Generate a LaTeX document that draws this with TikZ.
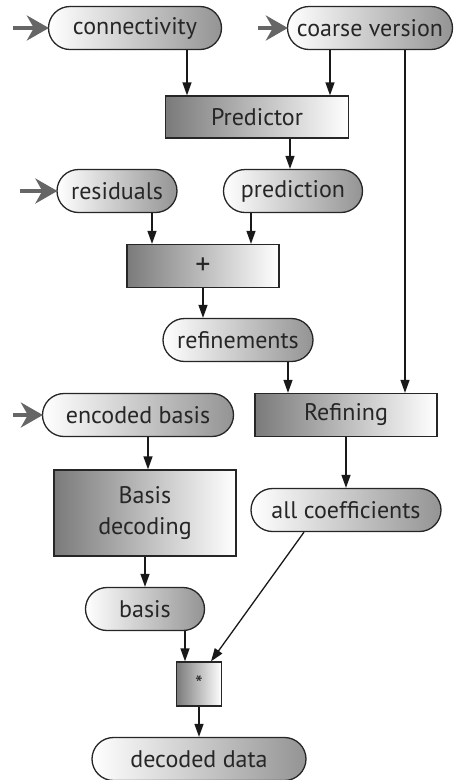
\documentclass[tikz,border=0pt]{standalone}
\usepackage{fontspec}
\setmainfont{PT Sans}
\usetikzlibrary{shapes.misc,arrows.meta,calc}
\tikzset{
  datum/.style={rounded rectangle,draw=black!85,line width=1.3pt,left color=white,right color=black!42,
    inner sep=0pt,minimum height=43pt,font=\fontsize{24}{27}\selectfont,text=black!85},
  stage/.style={rectangle,draw=black!85,line width=1.3pt,left color=black!52,right color=white,
    inner sep=0pt,minimum height=43pt,font=\fontsize{24}{27}\selectfont,text=black!85,align=center},
  flow/.style={line width=1.3pt,draw=black!90,-{Triangle[length=13pt,width=9pt]}},
  feed/.style={line width=3.5pt,draw=black!60,-{Stealth[length=22pt,width=25pt,inset=7pt]},shorten >=-1pt}
}
\begin{document}
\begin{tikzpicture}[x=1pt,y=-1pt]
\useasboundingbox (0,0) rectangle (456,780);
% data items
\node[datum,minimum width=173pt] (conn) at (135,28) {connectivity};
\node[datum,minimum width=165pt] (coarse) at (370,28) {coarse version};
\node[datum,minimum width=120pt] (resid) at (117,191) {residuals};
\node[datum,minimum width=139pt] (pred) at (293,191) {prediction};
\node[datum,minimum width=150pt] (refin) at (238,340) {refinements};
\node[datum,minimum width=191pt] (encb) at (138,415) {encoded basis};
\node[datum,minimum width=190pt] (allc) at (346,510) {all coefficients};
\node[datum,minimum width=119pt] (basis) at (145,609) {basis};
\node[datum,minimum width=214pt] (dec) at (199,759) {decoded data};
% processing steps
\node[stage,minimum width=183pt,minimum height=42pt] (predictor) at (257,117) {Predictor};
\node[stage,minimum width=152pt,font=\fontsize{30}{30}\selectfont] (plus) at (203,266) {+};
\node[stage,minimum width=182pt] (refining) at (346,415) {Refining};
\node[stage,minimum width=182pt,minimum height=86pt,font=\fontsize{24}{31}\selectfont] (bdec) at (145,513) {Basis\\decoding};
\node[stage,minimum width=45pt,minimum height=44pt,font=\fontsize{22}{22}\selectfont] (mult) at (199,684) {*};
% inputs
\coordinate (inConn) at (13,28);
\coordinate (inCoarse) at (258,28);
\coordinate (inResid) at (20,191);
\coordinate (inEncb) at (13,415);
\draw[feed] (inConn) -- (conn.west);
\draw[feed] (inCoarse) -- (coarse.west);
\draw[feed] (inResid) -- (resid.west);
\draw[feed] (inEncb) -- (encb.west);
% connections
\draw[flow] ([xshift=52pt]conn.south) -- ([xshift=52pt]conn.south |- predictor.north);
\draw[flow] ([xshift=-40pt]coarse.south) -- ([xshift=-40pt]coarse.south |- predictor.north);
\draw[flow] ([xshift=33pt]predictor.south) -- ([xshift=33pt]predictor.south |- pred.north);
\draw[flow] ([xshift=35pt]resid.south) -- ([xshift=35pt]resid.south |- plus.north);
\draw[flow] ([xshift=-42pt]pred.south) -- ([xshift=-42pt]pred.south |- plus.north);
\draw[flow] (plus.south) -- (plus.south |- refin.north);
\draw[flow] ([xshift=50pt]refin.south) -- ([xshift=50pt]refin.south |- refining.north);
\draw[flow] ([xshift=35pt]coarse.south) -- ([xshift=35pt]coarse.south |- refining.north);
\draw[flow] ([xshift=10pt]encb.south) -- ([xshift=10pt]encb.south |- bdec.north);
\draw[flow] (refining.south) -- (allc.north);
\draw[flow] (bdec.south) -- (basis.north);
\draw[flow] ([xshift=40pt]basis.south) -- ([xshift=40pt]basis.south |- mult.north);
\draw[flow] ([xshift=-42pt]allc.south) -- ([xshift=12pt]mult.north);
\draw[flow] (mult.south) -- (dec.north);
\end{tikzpicture}
\end{document}
